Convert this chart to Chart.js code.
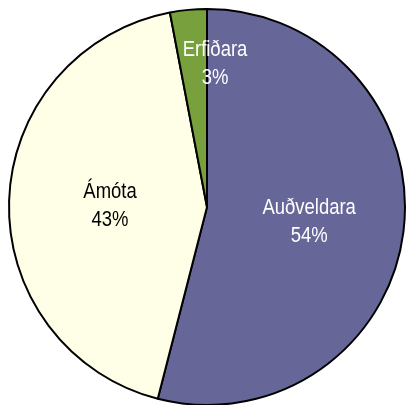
<!DOCTYPE html>
<html>
<head>
<meta charset="utf-8">
<script src="https://cdn.jsdelivr.net/npm/chart.js@4/dist/chart.umd.min.js"></script>
<style>
  html, body { margin: 0; padding: 0; background: #ffffff; overflow: hidden; }
  #wrap { width: 407px; height: 405px; overflow: hidden; }
</style>
</head>
<body>
<div id="wrap">
  <canvas id="pieChart" width="407" height="420"></canvas>
</div>
<script>
const categories = ["Auðveldara", "Ámóta", "Erfiðara"];
const shares = [54, 43, 3];
const sliceColors = ["#666699", "#FFFFE8", "#78A03C"];
const labelColors = ["#ffffff", "#000000", "#ffffff"];

// labels inside slices, narrow Arial-like text
const sliceLabels = {
    id: "sliceLabels",
    afterDatasetsDraw: function (chart) {
        const ctx = chart.ctx;
        const meta = chart.getDatasetMeta(0);
        meta.data.forEach(function (arc, i) {
            const p = arc.getProps(["x", "y", "startAngle", "endAngle", "outerRadius"], true);
            const mid = (p.startAngle + p.endAngle) / 2;
            let x, y;
            if (shares[i] < 5) {
                // tiny slice: excel pushes the label up near the edge
                x = p.x + 8;
                y = p.y - p.outerRadius * 0.73;
            } else {
                const r = p.outerRadius * (i === 0 ? 0.52 : 0.49);
                x = p.x + Math.cos(mid) * r;
                y = p.y + Math.sin(mid) * r;
            }
            const lines = [categories[i], shares[i] + "%"];
            ctx.save();
            ctx.fillStyle = labelColors[i];
            ctx.font = "22px 'Liberation Sans', Arial, sans-serif";
            ctx.textAlign = "center";
            ctx.textBaseline = "alphabetic";
            lines.forEach(function (t, k) {
                ctx.save();
                ctx.translate(x, y - 6 + k * 28);
                ctx.scale(0.84, 1);
                ctx.fillText(t, 0, 0);
                ctx.restore();
            });
            ctx.restore();
        });
    }
};

new Chart(document.getElementById("pieChart"), {
    type: "pie",
    data: {
        labels: categories,
        datasets: [
            {
                data: shares,
                backgroundColor: sliceColors,
                borderColor: "#000000",
                borderWidth: 2
            }
        ]
    },
    options: {
        responsive: false,
        animation: false,
        layout: {
            padding: { left: 8, right: 1, top: 8, bottom: 14 }
        },
        plugins: {
            legend: { display: false },
            tooltip: { enabled: false }
        }
    },
    plugins: [sliceLabels]
});
</script>
</body>
</html>
